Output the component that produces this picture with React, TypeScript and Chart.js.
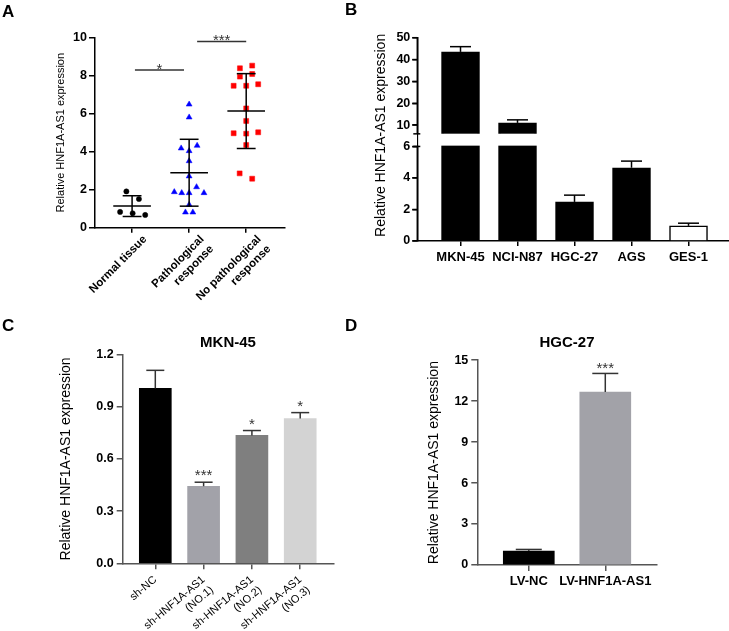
import React, { useEffect, useRef } from 'react';
import { Chart, registerables } from 'chart.js';

Chart.register(...registerables);

const FONT = "'Liberation Sans', Arial, Helvetica, sans-serif";
Chart.defaults.font.family = FONT;
Chart.defaults.color = '#000';

// ---------------- Panel A (scatter, mean ± SD) ----------------
const catsA: any[] = ['Normal tissue', ['Pathological', 'response'], ['No pathological', 'response']];
const normalTissue = [1.91, 1.51, 0.83, 0.76, 0.67];
const normalJitter = [-0.1, 0.12, -0.21, 0.01, 0.23];
const pathResponse = [6.49, 5.81, 4.18, 4.32, 4.04, 3.51, 2.71, 2.14, 1.88, 1.83, 1.83, 1.83, 1.21, 0.81, 0.81];
const pathJitter = [0, 0, -0.14, 0.14, 0, 0, 0, 0.13, -0.26, -0.13, 0, 0.26, 0, -0.065, 0.065];
const noPathResponse = [8.39, 8.53, 7.95, 8.09, 7.47, 7.47, 7.55, 6.28, 5.62, 4.97, 4.95, 5.02, 4.35, 2.86, 2.58];
const noPathJitter = [-0.11, 0.105, -0.11, 0.105, -0.22, 0, 0.21, 0, 0, -0.22, 0, 0.21, 0, -0.115, 0.105];
const yTicksA = [0, 2, 4, 6, 8, 10];
const sigBarsA = [
  { from: 0.05, to: 0.91, y: 8.3, label: '*' },
  { from: 1.14, to: 2.0, y: 9.8, label: '***' },
];

// ---------------- Panel B (bars with broken axis) ----------------
const cellLines = ['MKN-45', 'NCI-N87', 'HGC-27', 'AGS', 'GES-1'];
const cellMeans = [43.5, 11.0, 2.48, 4.65, 0.96];
const cellErrs = [2.4, 1.4, 0.43, 0.42, 0.17];
const cellColors = ['#000000', '#000000', '#000000', '#000000', '#ffffff'];
const yTicksBLow = [0, 2, 4, 6];
const yTicksBHigh = [10, 20, 30, 40, 50];
const breakAt = 6;

// ---------------- Panel C ----------------
const groupsC: any[] = ['sh-NC', ['sh-HNF1A-AS1', '(NO.1)'], ['sh-HNF1A-AS1', '(NO.2)'], ['sh-HNF1A-AS1', '(NO.3)']];
const meansC = [1.005, 0.443, 0.735, 0.832];
const errsC = [0.104, 0.023, 0.028, 0.034];
const colorsC = ['#000000', '#a2a2a9', '#7f7f7f', '#d3d3d3'];
const starsC = ['', '***', '*', '*'];
const yTicksC = [0, 0.3, 0.6, 0.9, 1.2];

// ---------------- Panel D ----------------
const groupsD = ['LV-NC', 'LV-HNF1A-AS1'];
const meansD = [1.02, 12.67];
const errsD = [0.12, 1.36];
const colorsD = ['#000000', '#a2a2a8'];
const starsD = ['', '***'];
const yTicksD = [0, 3, 6, 9, 12, 15];

const Y_TITLE = 'Relative HNF1A-AS1 expression';

// ---------------- helpers ----------------
const mean = (a: number[]) => a.reduce((s, v) => s + v, 0) / a.length;
const sd = (a: number[]) => {
  const m = mean(a);
  return Math.sqrt(a.reduce((s, v) => s + (v - m) ** 2, 0) / (a.length - 1));
};
const fixTicks = (vals: number[]) => (scale: any) => {
  scale.ticks = vals.map((value) => ({ value }));
};
const fixWidth = (w: number) => (scale: any) => {
  scale.width = w;
};
const fixHeight = (h: number) => (scale: any) => {
  scale.height = h;
};
const axisStyle = (color: string, tickLength: number) => ({
  offset: false,
  grid: { display: true, offset: false, drawOnChartArea: false, drawTicks: true, tickLength, color, lineWidth: 1.5 },
  border: { display: true, color, width: 1.5 },
});
const line = (ctx: any, x1: number, y1: number, x2: number, y2: number) => {
  ctx.beginPath();
  ctx.moveTo(x1, y1);
  ctx.lineTo(x2, y2);
  ctx.stroke();
};
const star = (ctx: any, text: string, x: number, y: number, size: number, color: string) => {
  ctx.save();
  ctx.font = `${size}px ${FONT}`;
  ctx.fillStyle = color;
  ctx.textAlign = 'center';
  ctx.textBaseline = 'alphabetic';
  ctx.fillText(text, x, y);
  ctx.restore();
};
const base = {
  responsive: false,
  animation: false,
  devicePixelRatio: 1,
  events: [],
};
const noPlugins = { legend: { display: false }, tooltip: { enabled: false } };

// ---------------- Panel A config ----------------
function makeA(): any {
  const groups = [normalTissue, pathResponse, noPathResponse];
  const jitters = [normalJitter, pathJitter, noPathJitter];
  const styles = [
    { pointStyle: 'circle', r: 2.6, c: '#000000' },
    { pointStyle: 'triangle', r: 3.4, c: '#0000ff' },
    { pointStyle: 'rect', r: 3.5, c: '#ff0000' },
  ];
  const decor = {
    id: 'decorA',
    afterDatasetsDraw(chart: any) {
      const { ctx } = chart;
      const xs = chart.scales.x;
      const ys = chart.scales.y;
      ctx.save();
      ctx.strokeStyle = '#000';
      ctx.lineWidth = 1.5;
      groups.forEach((vals, g) => {
        const m = mean(vals);
        const s = sd(vals);
        const x = xs.getPixelForValue(g);
        const mh = xs.getPixelForValue(g + 0.33) - x;
        const ch = xs.getPixelForValue(g + 0.165) - x;
        const ym = ys.getPixelForValue(m);
        const yt = ys.getPixelForValue(m + s);
        const yb = ys.getPixelForValue(m - s);
        line(ctx, x - mh, ym, x + mh, ym);
        line(ctx, x, yt, x, yb);
        line(ctx, x - ch, yt, x + ch, yt);
        line(ctx, x - ch, yb, x + ch, yb);
      });
      ctx.strokeStyle = '#333';
      sigBarsA.forEach((b) => {
        const y = ys.getPixelForValue(b.y);
        const x1 = xs.getPixelForValue(b.from);
        const x2 = xs.getPixelForValue(b.to);
        line(ctx, x1, y, x2, y);
        star(ctx, b.label, (x1 + x2) / 2, y + 3.5, 15, '#333');
      });
      ctx.restore();
    },
  };
  return {
    type: 'scatter',
    data: {
      datasets: groups.map((vals, g) => ({
        data: vals.map((v, i) => ({ x: g + jitters[g][i], y: v })),
        pointStyle: styles[g].pointStyle,
        pointRadius: styles[g].r,
        backgroundColor: styles[g].c,
        borderColor: styles[g].c,
        borderWidth: 0.5,
      })),
    },
    options: {
      ...base,
      layout: { padding: { left: 50, top: 37.7, right: 15, bottom: 0 } },
      plugins: noPlugins,
      scales: {
        x: {
          type: 'linear',
          min: -0.65,
          max: 2.68,
          afterBuildTicks: fixTicks([0, 1, 2]),
          afterFit: fixHeight(92.3),
          ticks: {
            callback: (v: number) => catsA[v],
            font: { size: 11.5, weight: 'bold' },
            color: '#000',
            minRotation: 45,
            maxRotation: 45,
            autoSkip: false,
            padding: 0,
            labelOffset: 13,
          },
          ...axisStyle('#000', 5),
        },
        y: {
          min: 0,
          max: 10,
          afterBuildTicks: fixTicks(yTicksA),
          afterFit: fixWidth(45),
          ticks: { font: { size: 12.5, weight: 'bold' }, color: '#000', padding: 2, autoSkip: false },
          title: { display: true, text: Y_TITLE, font: { size: 11 }, color: '#000', padding: { top: 4, bottom: 0 } },
          ...axisStyle('#000', 6),
        },
      },
    },
    plugins: [decor],
  };
}

// ---------------- Panel B config ----------------
function makeB(): any {
  const decor = {
    id: 'decorB',
    afterDatasetsDraw(chart: any) {
      const { ctx, chartArea } = chart;
      const xs = chart.scales.x;
      const lo = chart.scales.y;
      const hi = chart.scales.y2;
      const gapTop = hi.bottom;
      const gapBot = lo.getPixelForValue(breakAt) - 0.8;
      const L = chartArea.left;
      ctx.save();
      ctx.fillStyle = '#ffffff';
      ctx.fillRect(L + 1, gapTop, chartArea.right - L - 1, gapBot - gapTop);
      ctx.strokeStyle = '#000';
      ctx.lineWidth = 1.5;
      // y axis segments with tick marks and break marks
      line(ctx, L, hi.top, L, gapTop);
      line(ctx, L, gapBot + 0.8, L, lo.bottom);
      yTicksBHigh.forEach((v) => {
        const y = hi.getPixelForValue(v);
        line(ctx, L - 5, y, L, y);
      });
      yTicksBLow.forEach((v) => {
        const y = lo.getPixelForValue(v);
        line(ctx, L - 5, y, L, y);
      });
      line(ctx, L - 4, gapTop, L + 3, gapTop);
      line(ctx, L - 4, gapBot + 0.8, L + 3, gapBot + 0.8);
      // error bars
      const pick = (v: number) => (v > breakAt ? hi : lo);
      cellMeans.forEach((m, i) => {
        const x = xs.getPixelForValue(i);
        const top = m + cellErrs[i];
        const y0 = pick(m).getPixelForValue(m);
        const y1 = pick(top).getPixelForValue(top);
        line(ctx, x, y0, x, y1);
        line(ctx, x - 10.5, y1, x + 10.5, y1);
      });
      // axis title
      ctx.translate(20.8, (chartArea.top + chartArea.bottom) / 2 - 4);
      ctx.rotate(-Math.PI / 2);
      ctx.font = `14px ${FONT}`;
      ctx.fillStyle = '#000';
      ctx.textAlign = 'center';
      ctx.textBaseline = 'middle';
      ctx.fillText(Y_TITLE, 0, 0);
      ctx.restore();
    },
  };
  const ds = (axis: string) => ({
    data: cellMeans.map((v, i) => ({ x: i, y: v })),
    yAxisID: axis,
    backgroundColor: cellColors,
    borderColor: '#000',
    borderWidth: 1.5,
    barThickness: 38,
    grouped: false,
    clip: 0,
  });
  return {
    type: 'bar',
    data: { datasets: [ds('y'), ds('y2')] },
    options: {
      ...base,
      layout: { padding: { left: 30, top: 37.7, right: 0.7, bottom: 0 } },
      plugins: noPlugins,
      scales: {
        x: {
          type: 'linear',
          min: -0.758,
          max: 4.698,
          afterBuildTicks: fixTicks([0, 1, 2, 3, 4]),
          afterFit: fixHeight(79),
          ticks: {
            callback: (v: number) => cellLines[v],
            font: { size: 13, weight: 'bold' },
            color: '#000',
            maxRotation: 0,
            autoSkip: false,
            padding: 4,
          },
          ...axisStyle('#000', 5),
        },
        y: {
          stack: 'b',
          stackWeight: 107,
          position: 'left',
          min: 0,
          max: 6.8,
          afterBuildTicks: fixTicks(yTicksBLow),
          afterFit: fixWidth(27.3),
          ticks: { font: { size: 12.5, weight: 'bold' }, color: '#000', padding: 2, autoSkip: false },
          ...axisStyle('#000', 5),
        },
        y2: {
          stack: 'b',
          stackWeight: 96,
          position: 'left',
          min: 6,
          max: 50,
          afterBuildTicks: fixTicks(yTicksBHigh),
          afterFit: fixWidth(27.3),
          ticks: { font: { size: 12.5, weight: 'bold' }, color: '#000', padding: 2, autoSkip: false },
          ...axisStyle('#000', 5),
        },
      },
    },
    plugins: [decor],
  };
}

// ---------------- Panels C & D config ----------------
function makeBarPanel(p: any): any {
  const decor = {
    id: 'decorBar',
    afterDatasetsDraw(chart: any) {
      const { ctx } = chart;
      const xs = chart.scales.x;
      const ys = chart.scales.y;
      ctx.save();
      ctx.strokeStyle = '#333';
      ctx.lineWidth = 1.5;
      p.means.forEach((m: number, i: number) => {
        const x = xs.getPixelForValue(i);
        const y0 = ys.getPixelForValue(m);
        const y1 = ys.getPixelForValue(m + p.errs[i]);
        line(ctx, x, y0, x, y1);
        line(ctx, x - p.capHalf, y1, x + p.capHalf, y1);
        if (p.stars[i]) star(ctx, p.stars[i], x, y1 - p.starGap, 15, '#333');
      });
      ctx.restore();
    },
  };
  const axisColor = '#555555';
  return {
    type: 'bar',
    data: {
      datasets: [
        {
          data: p.means.map((v: number, i: number) => ({ x: i, y: v })),
          backgroundColor: p.colors,
          borderWidth: 0,
          barThickness: p.barW,
        },
      ],
    },
    options: {
      ...base,
      layout: { padding: p.pad },
      plugins: {
        ...noPlugins,
        title: {
          display: true,
          text: p.title,
          fullSize: false,
          color: '#000',
          font: { size: 15, weight: 'bold' },
          padding: p.titlePad,
        },
      },
      scales: {
        x: {
          type: 'linear',
          min: p.xMin,
          max: p.xMax,
          afterBuildTicks: fixTicks(p.labels.map((_: any, i: number) => i)),
          afterFit: fixHeight(p.xHeight),
          ticks: {
            callback: (v: number) => p.labels[v],
            font: p.xFont,
            color: '#000',
            minRotation: p.rotation,
            maxRotation: p.rotation,
            autoSkip: false,
            padding: p.xPad,
          },
          ...axisStyle(axisColor, 6),
        },
        y: {
          min: 0,
          max: p.yMax,
          afterBuildTicks: fixTicks(p.yTicks),
          afterFit: fixWidth(p.yWidth),
          ticks: {
            callback: (v: number) => v.toFixed(p.decimals),
            font: { size: 12.5, weight: 'bold' },
            color: '#000',
            padding: 3,
            autoSkip: false,
          },
          title: {
            display: true,
            text: Y_TITLE,
            font: { size: 14 },
            color: '#000',
            padding: { top: p.yTitlePad, bottom: 0 },
          },
          ...axisStyle(axisColor, 6),
        },
      },
    },
    plugins: [decor],
  };
}

const makeC = () =>
  makeBarPanel({
    title: 'MKN-45',
    labels: groupsC,
    means: meansC,
    errs: errsC,
    colors: colorsC,
    stars: starsC,
    yTicks: yTicksC,
    yMax: 1.2,
    xMin: -0.675,
    xMax: 3.685,
    barW: 32,
    capHalf: 9,
    starGap: 2,
    pad: { left: 50, right: 26.7, top: 0, bottom: 0 },
    titlePad: { top: 4, bottom: 2.5 },
    yWidth: 72.7,
    yTitlePad: 7.6,
    xHeight: 67.7,
    xFont: { size: 11 },
    rotation: 40,
    xPad: 4,
    decimals: 1,
  });

const makeD = () =>
  makeBarPanel({
    title: 'HGC-27',
    labels: groupsD,
    means: meansD,
    errs: errsD,
    colors: colorsD,
    stars: starsD,
    yTicks: yTicksD,
    yMax: 15,
    xMin: -0.673,
    xMax: 1.672,
    barW: 51,
    capHalf: 13,
    starGap: 0,
    pad: { left: 50, right: 72.3, top: 0, bottom: 0 },
    titlePad: { top: 3.6, bottom: 8.6 },
    yWidth: 67.3,
    yTitlePad: 15.8,
    xHeight: 66,
    xFont: { size: 13, weight: 'bold' },
    rotation: 0,
    xPad: 3,
    decimals: 0,
  });

// ---------------- components ----------------
function ChartBox(props: { left: number; top: number; width: number; height: number; make: () => any }) {
  const ref = useRef<HTMLCanvasElement>(null);
  useEffect(() => {
    const chart = new Chart(ref.current as HTMLCanvasElement, props.make());
    return () => chart.destroy();
  }, []);
  return (
    <div style={{ position: 'absolute', left: props.left, top: props.top, width: props.width, height: props.height }}>
      <canvas
        ref={ref}
        width={props.width}
        height={props.height}
        style={{ display: 'block', width: props.width, height: props.height }}
      />
    </div>
  );
}

const letterStyle = (left: number, top: number): React.CSSProperties => ({
  position: 'absolute',
  left,
  top,
  fontFamily: FONT,
  fontWeight: 'bold',
  fontSize: 17,
  lineHeight: '17px',
  color: '#000',
});

export default function App() {
  return (
    <div
      style={{
        position: 'absolute',
        left: 0,
        top: 0,
        width: 729,
        height: 631,
        background: '#ffffff',
        overflow: 'hidden',
      }}
    >
      <ChartBox left={0} top={0} width={300} height={320} make={makeA} />
      <ChartBox left={360} top={0} width={369} height={320} make={makeB} />
      <ChartBox left={0} top={330} width={360} height={301} make={makeC} />
      <ChartBox left={360} top={330} width={369} height={301} make={makeD} />
      <div style={letterStyle(2, 2.8)}>A</div>
      <div style={letterStyle(345, 1.1)}>B</div>
      <div style={letterStyle(2, 316.8)}>C</div>
      <div style={letterStyle(345, 316.8)}>D</div>
    </div>
  );
}
